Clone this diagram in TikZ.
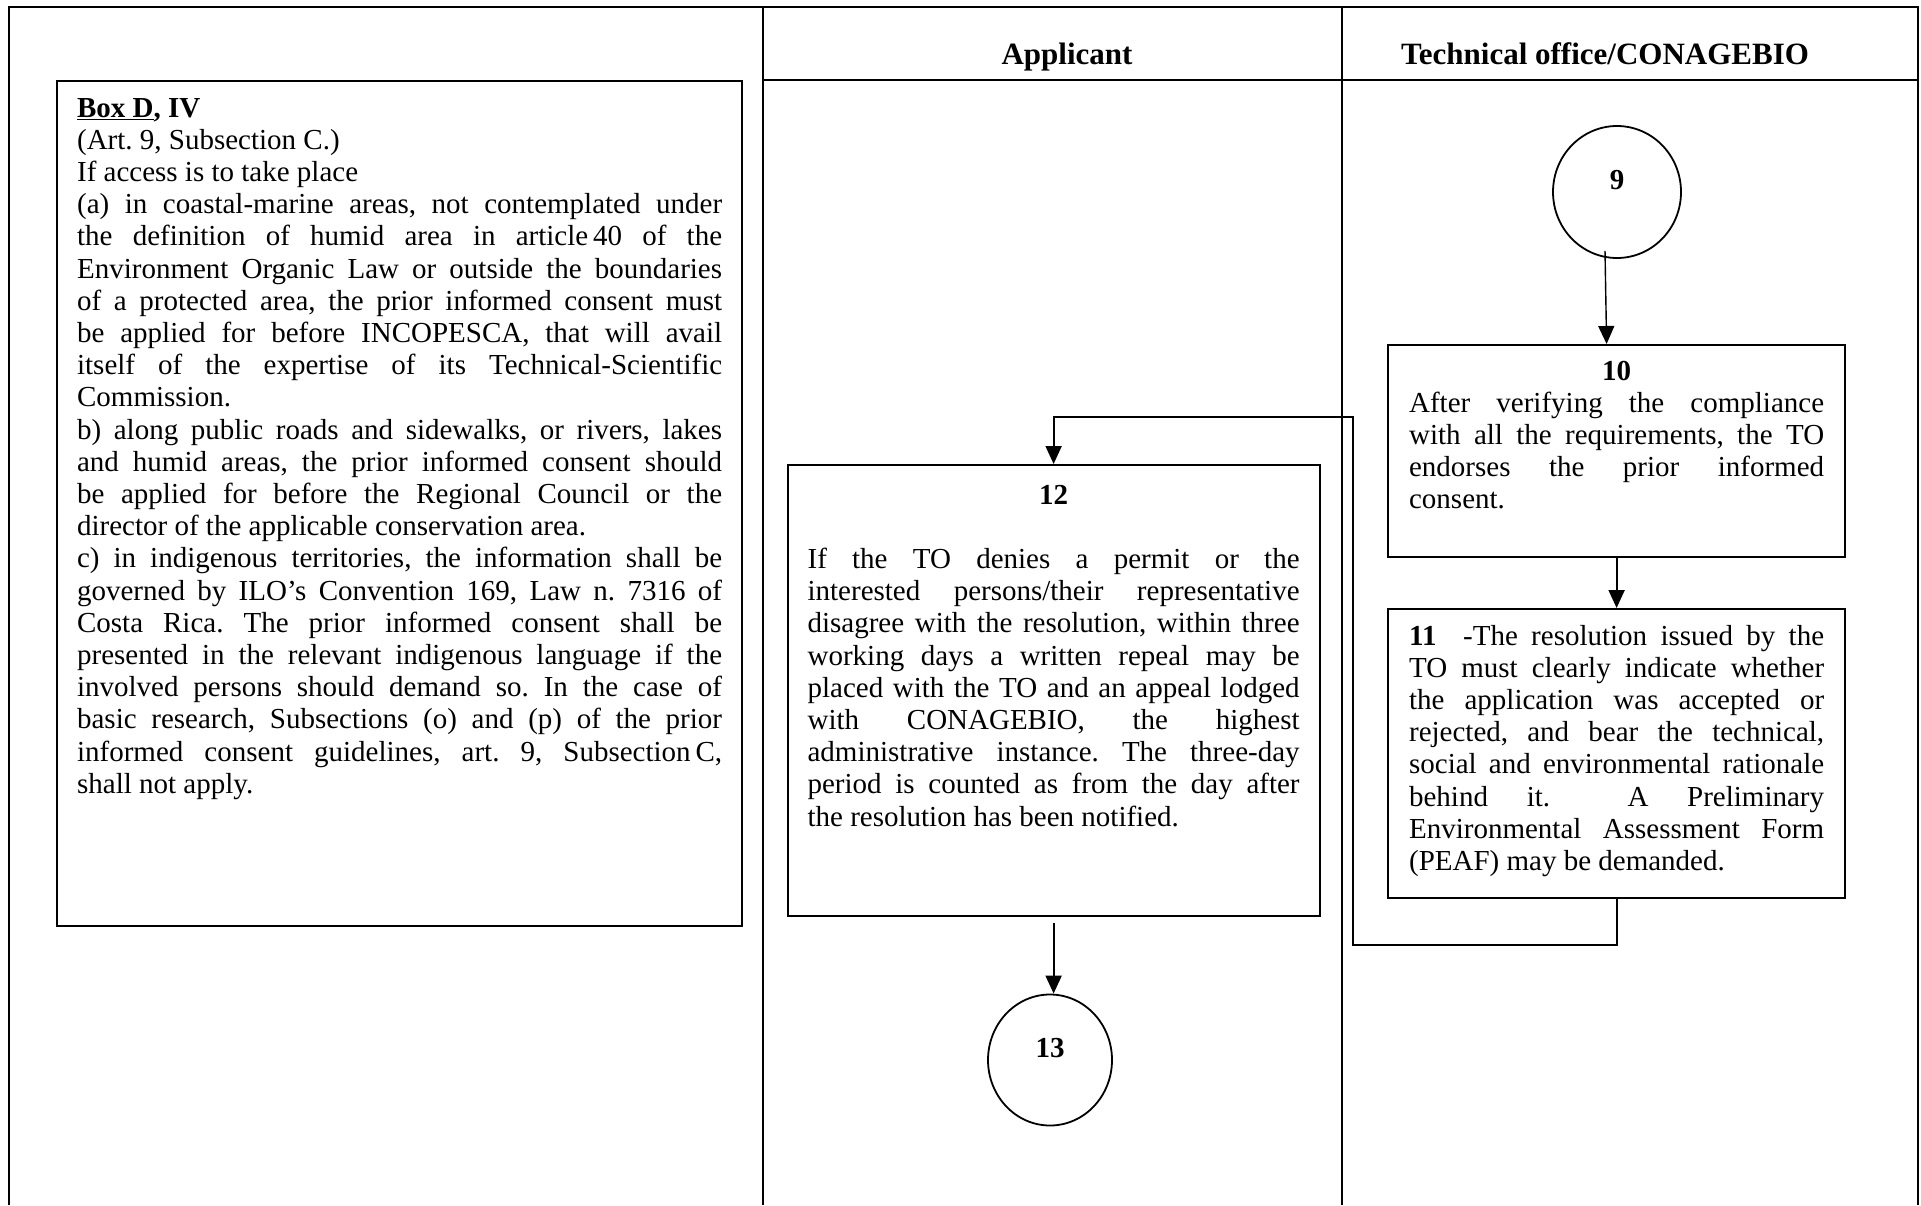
\documentclass[tikz,border=0pt]{standalone}
\usepackage{fontspec}
\setmainfont{Liberation Serif}
\usetikzlibrary{arrows.meta,shapes.geometric}
\frenchspacing
\newcommand\jline[1]{\noindent\makebox[\linewidth][s]{\strut#1}\par}
\newcommand\pline[1]{\noindent\strut#1\par}
\newcommand\cenline[1]{\noindent\makebox[\linewidth]{\strut#1}\par}
\begin{document}
\begin{tikzpicture}[x=1pt,y=-1pt,
  every node/.style={font=\fontsize{29}{32.2}\selectfont},
  frame/.style={line width=2pt},
  textbox/.style={draw, line width=2.2pt, anchor=north west, inner ysep=0pt},
  oval/.style={draw, ellipse, line width=1.8pt, inner sep=0pt},
  arr/.style={line width=2pt, -{Triangle[length=18pt,width=16pt]}},
  thinarr/.style={line width=1.4pt, -{Triangle[length=18pt,width=16pt]}},
  head/.style={font=\fontsize{31}{34}\selectfont\bfseries, anchor=base}]
\useasboundingbox (0,0) rectangle (1921,1205);
% table frame
\draw[frame] (8.6,1205) -- (8.6,7.4) -- (1918,7.4) -- (1918,1205);
\draw[frame] (763,7.4) -- (763,1205);
\draw[frame] (1341.5,7.4) -- (1341.5,1205);
\draw[frame] (763,79.6) -- (1918,79.6);
% headers
\node[head] (hA) at (1067,64) {Applicant};
\node[head] (hT) at (1605,64) {Technical office/CONAGEBIO};
% Box D
\node[textbox, inner xsep=20pt] (bD) at (56,80) {\begin{minipage}[t][845pt][t]{645pt}\vspace*{13.5pt}%
\pline{\underline{\textbf{Box D}}\textbf{, IV}}
\pline{(Art. 9, Subsection C.)}
\pline{If access is to take place}
\jline{(a) in coastal-marine areas, not contemplated under}
\jline{the definition of humid area in article\,40 of the}
\jline{Environment Organic Law or outside the boundaries}
\jline{of a protected area, the prior informed consent must}
\jline{be applied for before INCOPESCA, that will avail}
\jline{itself of the expertise of its Technical-Scientific}
\pline{Commission.}
\jline{b) along public roads and sidewalks, or rivers, lakes}
\jline{and humid areas, the prior informed consent should}
\jline{be applied for before the Regional Council or the}
\pline{director of the applicable conservation area.}
\jline{c) in indigenous territories, the information shall be}
\jline{governed by ILO’s Convention 169, Law n. 7316 of}
\jline{Costa Rica. The prior informed consent shall be}
\jline{presented in the relevant indigenous language if the}
\jline{involved persons should demand so. In the case of}
\jline{basic research, Subsections (o) and (p) of the prior}
\jline{informed consent guidelines, art. 9, Subsection\,C,}
\pline{shall not apply.}
\end{minipage}};
% Circle 9
\node[oval, minimum width=128pt, minimum height=132pt] (c9) at (1617,192) {\raisebox{24pt}{\textbf{9}}};
% Box 10
\node[textbox, inner xsep=21pt] (b10) at (1387,344) {\begin{minipage}[t][212pt][t]{415pt}\vspace*{12.5pt}%
\cenline{\textbf{10}}
\jline{After verifying the compliance}
\jline{with all the requirements, the TO}
\jline{endorses the prior informed}
\pline{consent.}
\end{minipage}};
% Box 11
\node[textbox, inner xsep=21pt] (b11) at (1387,608) {\begin{minipage}[t][289pt][t]{415pt}\vspace*{13.5pt}%
\jline{\textbf{11}\ \ -The resolution issued by the}
\jline{TO must clearly indicate whether}
\jline{the application was accepted or}
\jline{rejected, and bear the technical,}
\jline{social and environmental rationale}
\jline{behind it. \ A Preliminary}
\jline{Environmental Assessment Form}
\pline{(PEAF) may be demanded.}
\end{minipage}};
% Box 12
\node[textbox, inner xsep=20pt] (b12) at (786.5,464) {\begin{minipage}[t][451pt][t]{492pt}\vspace*{16.5pt}%
\cenline{\textbf{12}}
\pline{}
\jline{If the TO denies a permit or the}
\jline{interested persons/their representative}
\jline{disagree with the resolution, within three}
\jline{working days a written repeal may be}
\jline{placed with the TO and an appeal lodged}
\jline{with CONAGEBIO, the highest}
\jline{administrative instance. The three-day}
\jline{period is counted as from the day after}
\pline{the resolution has been notified.}
\end{minipage}};
% Circle 13
\node[oval, minimum width=124pt, minimum height=131pt] (c13) at (1050,1060) {\raisebox{24pt}{\textbf{13}}};
% connectors
\draw[thinarr] ([xshift=-12pt,yshift=8pt]c9.south) -- ([xshift=-10pt]b10.north);
\draw[arr] (b10.south) -- (b11.north);
\draw[arr] (b11.south) -- ++(0,46) -| (1352.5,416.5) -| (b12.north);
\draw[arr] ([yshift=-6pt]b12.south) -- (b12.south |- c13.north);
\end{tikzpicture}
\end{document}
